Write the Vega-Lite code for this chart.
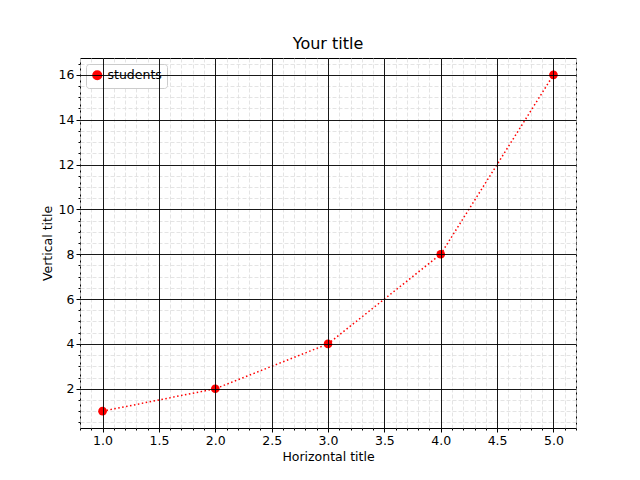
{
  "$schema": "https://vega.github.io/schema/vega-lite/v6.json",
  "width": 496,
  "height": 370,
  "autosize": "none",
  "padding": {"left": 80, "top": 58, "right": 64, "bottom": 52},
  "title": {"text": "Your title", "fontSize": 16, "fontWeight": "normal", "font": "DejaVu Sans", "offset": 6},
  "config": {
    "font": "DejaVu Sans",
    "view": {"stroke": "black"},
    "axis": {"labelFont": "DejaVu Sans", "titleFont": "DejaVu Sans", "labelFontSize": 12.5, "titleFontSize": 12.5, "titleFontWeight": "normal", "labelColor": "black", "titleColor": "black", "domain": false, "tickColor": "black"}
  },
  "data": {"values": [
    {"x": 1, "y": 1, "s": "students"},
    {"x": 2, "y": 2, "s": "students"},
    {"x": 3, "y": 4, "s": "students"},
    {"x": 4, "y": 8, "s": "students"},
    {"x": 5, "y": 16, "s": "students"}
  ]},
  "resolve": {"axis": {"x": "independent", "y": "independent"}},
  "layer": [
    {
      "mark": {"type": "point", "opacity": 0},
      "encoding": {
        "x": {"field": "x", "type": "quantitative", "scale": {"domain": [0.8, 5.2], "nice": false, "zero": false},
          "axis": {"orient": "bottom", "title": null, "labels": false, "grid": true, "tickSize": 2, "gridColor": "#dddddd", "gridDash": [4, 2], "gridWidth": 0.8, "zindex": 0,
            "values": [0.8,0.9,1.0,1.1,1.2,1.3,1.4,1.5,1.6,1.7,1.8,1.9,2.0,2.1,2.2,2.3,2.4,2.5,2.6,2.7,2.8,2.9,3.0,3.1,3.2,3.3,3.4,3.5,3.6,3.7,3.8,3.9,4.0,4.1,4.2,4.3,4.4,4.5,4.6,4.7,4.8,4.9,5.0,5.1,5.2]}},
        "y": {"field": "y", "type": "quantitative", "scale": {"domain": [0.25, 16.75], "nice": false, "zero": false},
          "axis": {"orient": "left", "title": null, "labels": false, "grid": true, "tickSize": 2, "gridColor": "#dddddd", "gridDash": [4, 2], "gridWidth": 0.8, "zindex": 0,
            "values": [0.5,1,1.5,2,2.5,3,3.5,4,4.5,5,5.5,6,6.5,7,7.5,8,8.5,9,9.5,10,10.5,11,11.5,12,12.5,13,13.5,14,14.5,15,15.5,16,16.5]}}
      }
    },
    {
      "mark": {"type": "line", "strokeDash": [1.5, 2.5], "strokeWidth": 1.5, "point": {"filled": true, "size": 75, "opacity": 1}},
      "encoding": {
        "x": {"field": "x", "type": "quantitative", "scale": {"domain": [0.8, 5.2], "nice": false, "zero": false},
          "axis": {"orient": "bottom", "title": "Horizontal title", "format": ".1f", "grid": true, "values": [1,1.5,2,2.5,3,3.5,4,4.5,5], "gridColor": "black", "gridWidth": 0.9, "tickSize": 4, "zindex": 1}},
        "y": {"field": "y", "type": "quantitative", "scale": {"domain": [0.25, 16.75], "nice": false, "zero": false},
          "axis": {"orient": "left", "title": "Vertical title", "grid": true, "values": [2,4,6,8,10,12,14,16], "gridColor": "black", "gridWidth": 0.9, "tickSize": 4, "zindex": 1}},
        "color": {"field": "s", "type": "nominal", "title": null, "scale": {"range": ["red"]},
          "legend": {"orient": "top-left", "offset": 6, "symbolType": "circle", "symbolSize": 75, "labelFontSize": 12.5, "fillColor": "white", "strokeColor": "#cccccc", "padding": 5, "cornerRadius": 3}}
      }
    }
  ]
}
